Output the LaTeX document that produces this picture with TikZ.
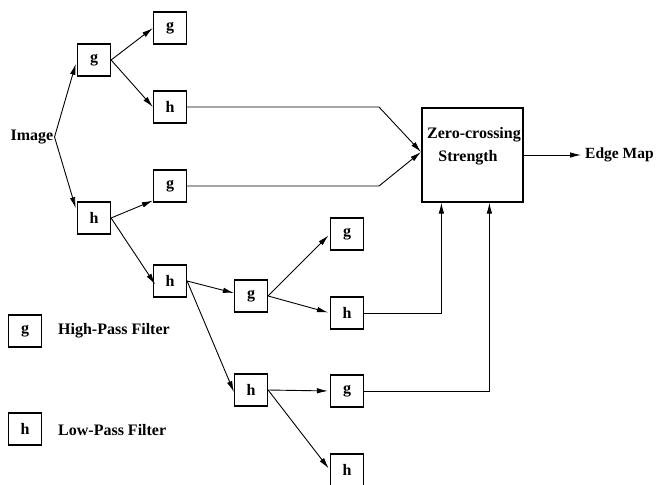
\documentclass[tikz,border=0pt]{standalone}
\usepackage{fontspec}
\setmainfont{Liberation Serif}
\usetikzlibrary{arrows.meta}
\begin{document}
\begin{tikzpicture}[x=1pt,y=-1pt,
  every node/.style={font=\fontsize{16}{19}\selectfont\bfseries},
  fbox/.style={draw,line width=1.2pt,minimum width=33pt,minimum height=32pt,inner sep=0pt},
  lbl/.style={inner sep=1pt},
  conn/.style={line width=0.9pt,-{Latex[length=11pt,width=5.5pt]}},
  plain/.style={line width=0.9pt}]
\useasboundingbox (0,0) rectangle (657,485);
% nodes
\node[lbl] (img) at (32,137) {Image};
\node[fbox] (g1) at (94,60) {g};
\node[fbox] (g2) at (170,28) {g};
\node[fbox] (h2) at (170,107) {h};
\node[fbox] (h1) at (94,218) {h};
\node[fbox] (g3) at (170,186) {g};
\node[fbox] (h3) at (170,281) {h};
\node[fbox] (g4) at (251,296) {g};
\node[fbox] (g5) at (347,234) {g};
\node[fbox] (h5) at (347,313) {h};
\node[fbox] (h4) at (251,390) {h};
\node[fbox] (g6) at (347,391) {g};
\node[fbox] (h6) at (347,470) {h};
\node[draw,line width=1.2pt,minimum width=101pt,minimum height=94pt,inner sep=0pt] (zc) at (472.5,155) {};
\node[lbl] (zt1) at (474,135) {Zero-crossing};
\node[lbl] (zt2) at (468,158) {Strength};
\node[lbl,anchor=west,font=\fontsize{15.5}{18}\selectfont\bfseries] (edge) at (584,155) {Edge Map};
% legend
\node[fbox] (lg) at (25,331) {g};
\node[lbl,anchor=west] (lgt) at (57,331) {High-Pass Filter};
\node[fbox] (lh) at (25,429) {h};
\node[lbl,anchor=west] (lht) at (57,430) {Low-Pass Filter};
% helper coordinates
\coordinate (k1) at (379,107);
\coordinate (k2) at (379,186);
\coordinate (zin) at (421,152);
% connectors
\draw[conn,shorten >=4pt] (img.east) -- (g1.west);
\draw[conn,shorten >=4pt] (img.east) -- ([yshift=6pt]h1.west);
\draw[conn] (g1.east) -- (g2.west);
\draw[conn] (g1.east) -- (h2.west);
\draw[conn] (h1.east) -- ([yshift=2pt]g3.south west);
\draw[conn,shorten >=-4pt] (h1.east) -- (h3.west);
\draw[conn] (h3.east) -- ([yshift=3pt]g4.west);
\draw[conn] (h3.east) -- ([yshift=-2pt]h4.west);
\draw[conn,shorten >=2pt] (g4.east) -- (g5.west);
\draw[conn,shorten >=2pt] (g4.east) -- (h5.west);
\draw[conn,shorten >=2pt] (h4.east) -- (g6.west);
\draw[conn,shorten >=2pt] (h4.east) -- (h6.west);
\draw[conn] (h2.east) -- (k1) -- (zin);
\draw[conn] (g3.east) -- (k2) -- (zin);
\draw[conn] (h5.east) -| ([xshift=20pt]zc.south west);
\draw[conn] (g6.east) -| ([xshift=68pt]zc.south west);
\draw[conn,shorten >=3pt] (zc.east) -- (edge.west);
\end{tikzpicture}
\end{document}
